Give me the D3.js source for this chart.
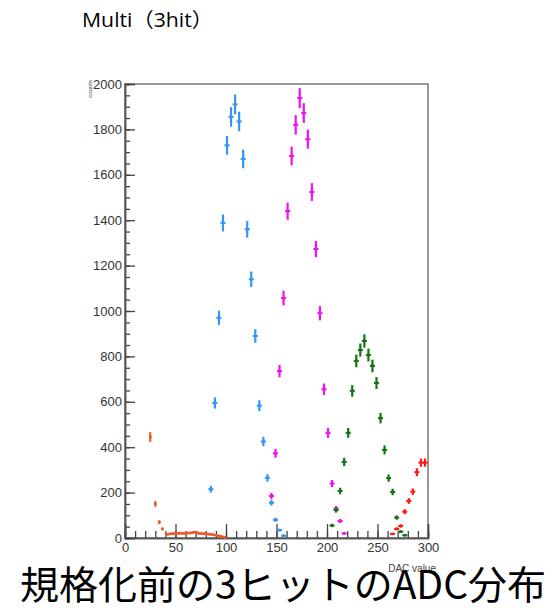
<!DOCTYPE html>
<html>
<head>
<meta charset="utf-8">
<script src="https://cdn.jsdelivr.net/npm/d3@7"></script>
<style>
  body { margin: 0; background: #fff; }
  svg { display: block; }
</style>
</head>
<body>
<svg width="554" height="610"></svg>
<script>
// DAC value bins and counts per channel
var orangeX = [25, 30, 34, 37, 41, 43, 45, 47, 49, 51, 53, 55, 57, 59, 61, 63, 65, 67, 69, 71, 73, 75, 77, 79, 81, 83, 85, 87, 89, 91, 93, 95, 97, 99]
var orangeY = [445, 150, 70, 40, 15, 17, 18, 19, 19, 20, 20, 21, 21, 20, 21, 22, 22, 24, 26, 23, 21, 20, 19, 19, 18, 17, 16, 15, 13, 11, 9, 7, 5, 3]
var blueX = [85, 89, 93, 97, 101, 105, 109, 113, 117, 121, 125, 129, 133, 137, 141, 145, 149, 153, 157]
var blueY = [215, 595, 970, 1388, 1730, 1855, 1910, 1835, 1670, 1360, 1140, 890, 583, 425, 265, 155, 80, 35, 10]
var magentaX = [145, 149, 153, 157, 161, 165, 169, 173, 177, 181, 185, 189, 193, 197, 201, 205, 209, 213, 217]
var magentaY = [185, 373, 735, 1057, 1440, 1683, 1820, 1938, 1872, 1757, 1524, 1273, 990, 655, 463, 240, 130, 75, 20]
var greenX = [205, 209, 213, 217, 221, 225, 229, 233, 237, 241, 245, 249, 253, 257, 261, 265, 269, 273, 277]
var greenY = [55, 123, 207, 335, 463, 648, 780, 828, 868, 806, 758, 683, 528, 388, 264, 203, 90, 28, 12]
var redX = [265, 269, 273, 277, 281, 285, 289, 293, 297]
var redY = [18, 40, 53, 116, 163, 204, 290, 332, 332]

var xTicks = [0, 50, 100, 150, 200, 250, 300]
var yTicks = [0, 200, 400, 600, 800, 1000, 1200, 1400, 1600, 1800, 2000]

var series = [
  {x: orangeX, y: orangeY, w: 1, color: "#ef5a2a"},
  {x: blueX, y: blueY, w: 2.5, color: "#3395f5"},
  {x: magentaX, y: magentaY, w: 2.5, color: "#f20ff2"},
  {x: greenX, y: greenY, w: 2.5, color: "#137313"},
  {x: redX, y: redY, w: 2.5, color: "#ff1a1a"}
]

function drawChart() {
  var svg = d3.select("svg")
  var pL = 125, pR = 428, pT = 84, pB = 538

  var xScale = d3.scaleLinear().domain([0, 300]).range([pL, pR])
  var yScale = d3.scaleLinear().domain([0, 2000]).range([pB, pT])

  // frame
  svg.append("rect")
    .attr("x", pL).attr("y", pT)
    .attr("width", pR - pL).attr("height", pB - pT)
    .style("fill", "none").style("stroke", "#777").style("stroke-width", 1.5)

  // x axis ticks (inside, upward)
  var xMinor = d3.axisBottom(xScale).tickValues(d3.range(0, 301, 10))
    .tickSize(-7).tickFormat("")
  svg.append("g").attr("transform", "translate(0," + pB + ")").call(xMinor)
  var xMajor = d3.axisBottom(xScale).tickValues(xTicks).tickSize(-14).tickPadding(5).tickFormat(d3.format("d"))
  svg.append("g").attr("class", "major").attr("transform", "translate(0," + pB + ")").call(xMajor)

  // y axis ticks (inside, rightward)
  var yMinor = d3.axisLeft(yScale).tickValues(d3.range(0, 2001, 50))
    .tickSize(-5).tickFormat("")
  svg.append("g").attr("transform", "translate(" + pL + ",0)").call(yMinor)
  var yMajor = d3.axisLeft(yScale).tickValues(yTicks).tickSize(-10).tickPadding(3).tickFormat(d3.format("d"))
  svg.append("g").attr("class", "major").attr("transform", "translate(" + pL + ",0)").call(yMajor)

  svg.selectAll(".domain").style("stroke", "#555").style("stroke-width", 1.5)
  svg.selectAll(".tick line").style("stroke", "#444").style("stroke-width", 1.3)
  svg.selectAll(".major text")
    .style("font-family", "Liberation Sans, Arial, sans-serif")
    .style("font-size", "13px").style("fill", "#333")

  // data points with error bars
  series.forEach(function (s) {
    var pts = s.x.map(function (v, i) { return {x: v, y: s.y[i], w: s.w} })
    var g = svg.append("g")
    g.selectAll("line.v").data(pts).enter().append("line").attr("class", "v")
      .attr("x1", d => xScale(d.x)).attr("x2", d => xScale(d.x))
      .attr("y1", d => yScale(d.y + Math.sqrt(d.y)))
      .attr("y2", d => yScale(Math.max(0, d.y - Math.sqrt(d.y))))
      .style("stroke", s.color).style("stroke-width", 2.2)
    g.selectAll("line.h").data(pts).enter().append("line").attr("class", "h")
      .attr("x1", d => xScale(d.x - d.w)).attr("x2", d => xScale(d.x + d.w))
      .attr("y1", d => yScale(d.y)).attr("y2", d => yScale(d.y))
      .style("stroke", s.color).style("stroke-width", 2)
    g.selectAll("circle").data(pts).enter().append("circle")
      .attr("cx", d => xScale(d.x)).attr("cy", d => yScale(d.y)).attr("r", 1.4)
      .style("fill", s.color)
  })

  // texts
  svg.append("text").attr("x", 82).attr("y", 27)
    .attr("textLength", 131).attr("lengthAdjust", "spacingAndGlyphs")
    .style("font-family", "Open Sans, Noto Sans CJK JP, sans-serif").style("font-size", "20px")
    .text("Multi（3hit）")

  svg.append("text").attr("x", 436).attr("y", 572).attr("text-anchor", "end")
    .style("font-family", "Liberation Sans, Arial, sans-serif").style("font-size", "10px").style("fill", "#444")
    .text("DAC value")

  svg.append("text").attr("transform", "translate(92,80) rotate(-90)").attr("text-anchor", "end")
    .style("font-family", "Liberation Sans, Arial, sans-serif").style("font-size", "6px").style("fill", "#444")
    .text("counts")

  svg.append("text").attr("x", 20).attr("y", 599)
    .style("font-family", "Noto Sans CJK JP, sans-serif").style("font-size", "39px")
    .text("規格化前の3ヒットのADC分布")
}
drawChart()
</script>
</body>
</html>
